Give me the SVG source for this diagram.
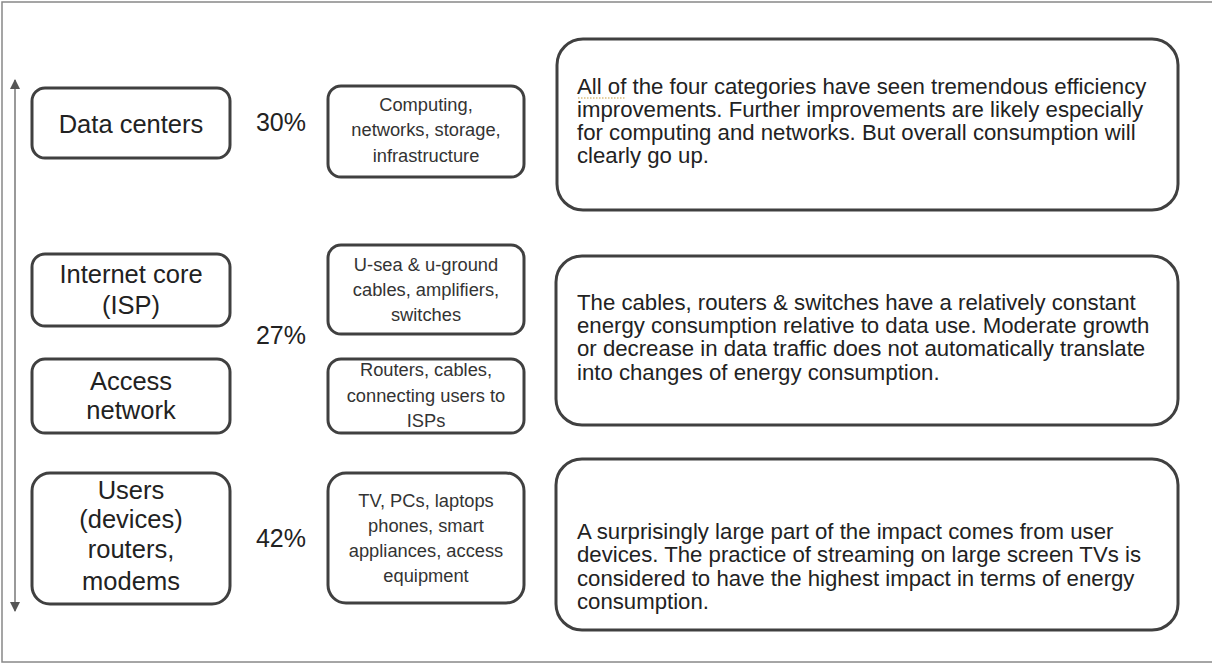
<svg xmlns="http://www.w3.org/2000/svg" width="1212" height="665" viewBox="0 0 1212 665">
<style>
.box{fill:#fff;stroke:#404040;stroke-width:3}
.big{fill:#fff;stroke:#404040;stroke-width:3}
.lbl{font-family:"Liberation Sans",Arial,sans-serif;font-size:25.5px;fill:#222;text-anchor:middle}
.pct{font-family:"Liberation Sans",Arial,sans-serif;font-size:25px;fill:#222;text-anchor:middle}
.sm{font-family:"Liberation Sans",Arial,sans-serif;font-size:18.3px;fill:#333;text-anchor:middle}
.txt{font-family:"Liberation Sans",Arial,sans-serif;font-size:22.2px;fill:#222}
</style>
<defs>
<marker id="ah" viewBox="0 0 10 10" refX="9" refY="5" markerWidth="10" markerHeight="10" markerUnits="userSpaceOnUse" orient="auto-start-reverse">
<path d="M0,0 L10,5 L0,10 z" fill="#555"/>
</marker>
</defs>
<rect x="2" y="2" width="1215" height="660" fill="#fff" stroke="#888" stroke-width="1.5"/>
<g id="connectors">
<line x1="15" y1="80" x2="15" y2="611" stroke="#555" stroke-width="1.2" marker-start="url(#ah)" marker-end="url(#ah)"/>
</g>
<g id="data-centers">
<rect class="box" x="32" y="88" width="198" height="70" rx="13"/>
<text class="lbl" x="131" y="133">Data centers</text>
</g>
<g id="pct30"><text class="pct" x="281" y="131">30%</text></g>
<g id="dc-detail">
<rect class="box" x="328" y="86" width="196" height="91" rx="13"/>
<text class="sm" x="426" y="111">Computing,</text>
<text class="sm" x="426" y="136">networks, storage,</text>
<text class="sm" x="426" y="162">infrastructure</text>
</g>
<g id="note1">
<rect class="big" x="557" y="39" width="621" height="171" rx="26"/>
<text class="txt" x="577" y="94">All of the four categories have seen tremendous efficiency</text>
<text class="txt" x="577" y="117">improvements. Further improvements are likely especially</text>
<text class="txt" x="577" y="140">for computing and networks. But overall consumption will</text>
<text class="txt" x="577" y="163">clearly go up.</text>
<line x1="578" y1="98" x2="626" y2="98" stroke="#c8a040" stroke-width="1.2" stroke-dasharray="1.5,1.5"/>
</g>
<g id="internet-core">
<rect class="box" x="32" y="254" width="198" height="72" rx="13"/>
<text class="lbl" x="131" y="283">Internet core</text>
<text class="lbl" x="131" y="314">(ISP)</text>
</g>
<g id="access-network">
<rect class="box" x="32" y="359" width="198" height="74" rx="13"/>
<text class="lbl" x="131" y="390">Access</text>
<text class="lbl" x="131" y="419">network</text>
</g>
<g id="pct27"><text class="pct" x="281" y="344">27%</text></g>
<g id="core-detail">
<rect class="box" x="328" y="245" width="196" height="89" rx="13"/>
<text class="sm" x="426" y="271">U-sea &amp; u-ground</text>
<text class="sm" x="426" y="296">cables, amplifiers,</text>
<text class="sm" x="426" y="321">switches</text>
</g>
<g id="access-detail">
<rect class="box" x="328" y="359" width="196" height="74" rx="13"/>
<text class="sm" x="426" y="376">Routers, cables,</text>
<text class="sm" x="426" y="402">connecting users to</text>
<text class="sm" x="426" y="427">ISPs</text>
</g>
<g id="note2">
<rect class="big" x="556" y="256" width="622" height="169" rx="26"/>
<text class="txt" x="577" y="310">The cables, routers &amp; switches have a relatively constant</text>
<text class="txt" x="577" y="333">energy consumption relative to data use. Moderate growth</text>
<text class="txt" x="577" y="356">or decrease in data traffic does not automatically translate</text>
<text class="txt" x="577" y="380">into changes of energy consumption.</text>
</g>
<g id="users">
<rect class="box" x="32" y="473" width="198" height="131" rx="18"/>
<text class="lbl" x="131" y="499">Users</text>
<text class="lbl" x="131" y="528">(devices)</text>
<text class="lbl" x="131" y="558">routers,</text>
<text class="lbl" x="131" y="590">modems</text>
</g>
<g id="pct42"><text class="pct" x="281" y="547">42%</text></g>
<g id="users-detail">
<rect class="box" x="328" y="473" width="196" height="130" rx="18"/>
<text class="sm" x="426" y="507">TV, PCs, laptops</text>
<text class="sm" x="426" y="532">phones, smart</text>
<text class="sm" x="426" y="557">appliances, access</text>
<text class="sm" x="426" y="582">equipment</text>
</g>
<g id="note3">
<rect class="big" x="556" y="459" width="622" height="171" rx="26"/>
<text class="txt" x="577" y="539">A surprisingly large part of the impact comes from user</text>
<text class="txt" x="577" y="562">devices. The practice of streaming on large screen TVs is</text>
<text class="txt" x="577" y="586">considered to have the highest impact in terms of energy</text>
<text class="txt" x="577" y="609">consumption.</text>
</g>
</svg>
